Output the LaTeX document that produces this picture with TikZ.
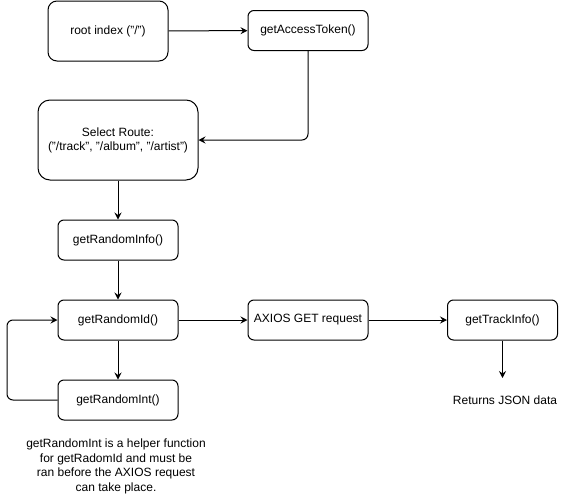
\documentclass[tikz,border=0pt]{standalone}
\usepackage{fontspec}
\setmainfont{Liberation Sans}
\usetikzlibrary{arrows.meta}
\begin{document}
\begin{tikzpicture}[x=1pt,y=-1pt,
  box/.style={draw,line width=1pt,rounded corners=6pt,inner sep=0pt,font=\fontsize{12}{14}\selectfont,align=center},
  arr/.style={line width=1pt,-{Stealth[length=7pt,width=7pt,inset=2.5pt]}},
  note/.style={font=\fontsize{12}{14.5}\selectfont,align=center,inner sep=0pt}]
\useasboundingbox[fill=white] (0,0) rectangle (568,501);
\node[box,rounded corners=9pt,minimum width=120pt,minimum height=60pt] (root) at (108,31) {root index ("/")};
\node[box,minimum width=120pt,minimum height=40pt] (tok) at (308,30.5) {getAccessToken()};
\node[box,rounded corners=12pt,minimum width=160pt,minimum height=80pt] (sel) at (118,140) {Select Route:\\("/track", "/album", "/artist")};
\node[box,minimum width=120pt,minimum height=40pt] (info) at (118,240) {getRandomInfo()};
\node[box,minimum width=120pt,minimum height=40pt] (rid) at (118,320) {getRandomId()};
\node[box,minimum width=120pt,minimum height=40pt] (axios) at (308,320) {AXIOS GET request};
\node[box,minimum width=110pt,minimum height=40pt] (track) at (502.5,320) {getTrackInfo()};
\node[box,minimum width=120pt,minimum height=40pt] (rint) at (118,400) {getRandomInt()};
\coordinate (json) at (502.5,378);
\node[note] (jsontxt) at (505,400.5) {Returns JSON data};
\node[note] (helper) at (116,466.5) {getRandomInt is a helper function\\for getRadomId and must be\\ran before the AXIOS request\\can take place.};
\draw[arr] (root) -- (tok);
\draw[arr,rounded corners=6pt] (tok.south) |- (sel.east);
\draw[arr] (sel) -- (info);
\draw[arr] (info) -- (rid);
\draw[arr] (rid) -- (axios);
\draw[arr] (axios) -- (track);
\draw[arr] (rid) -- (rint);
\draw[arr] (track) -- (json);
\draw[arr,rounded corners=6pt] (rint.west) -- ++(-50.5,0) |- (rid.west);
\end{tikzpicture}
\end{document}
